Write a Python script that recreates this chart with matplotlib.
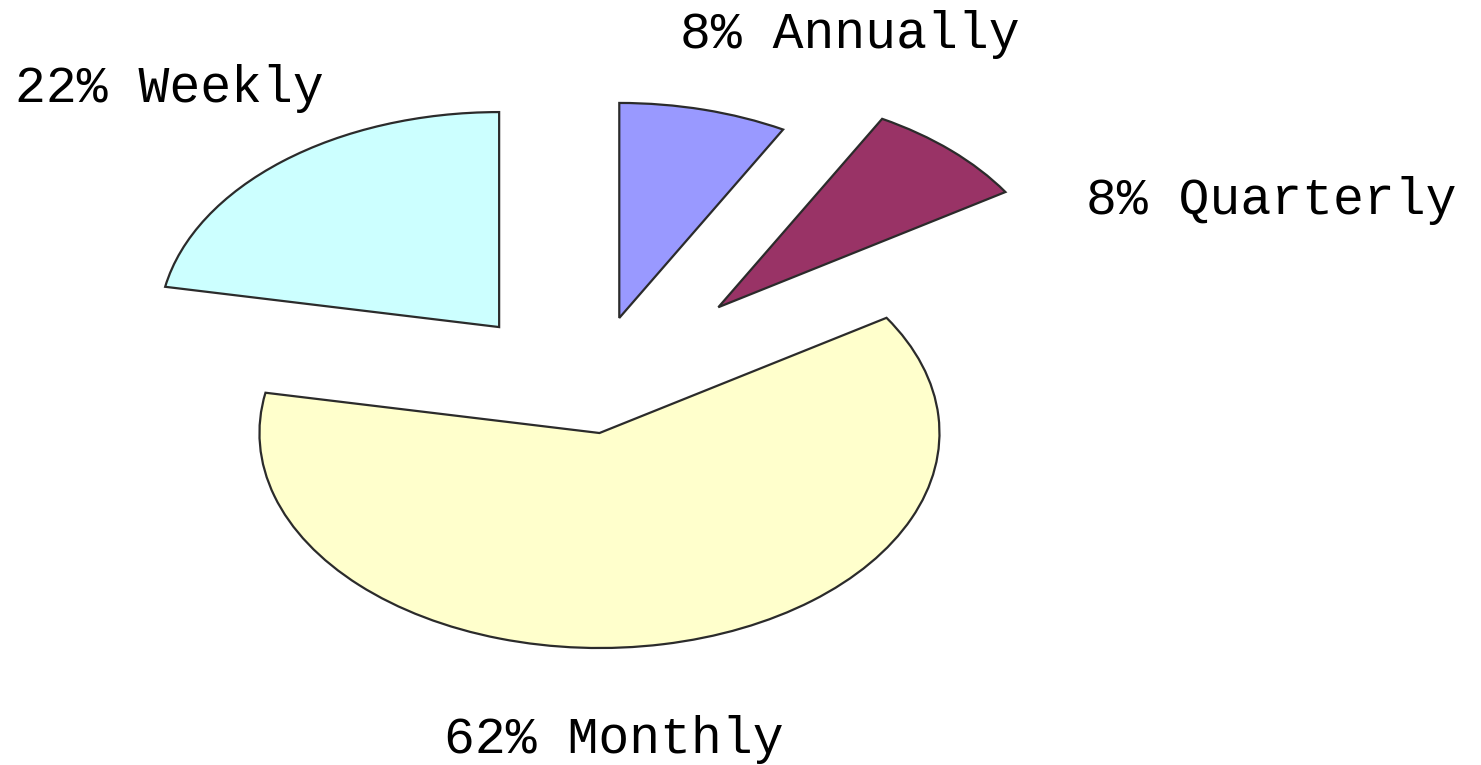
import matplotlib
matplotlib.use("Agg")
import matplotlib.pyplot as plt

# data (clockwise from 12 o'clock)
categories = ["Annually", "Quarterly", "Monthly", "Weekly"]
percents = [8, 8, 62, 22]
colors = ["#9999FF", "#993366", "#FFFFCC", "#CCFFFF"]
explode = [0.37, 0.56, 0.18, 0.41]

# label anchor positions (figure fraction, left / vertical centre)
label_pos = [(0.459, 0.955), (0.733, 0.738), (0.300, 0.033), (0.010, 0.884)]

fig = plt.figure(figsize=(14.81, 7.65), dpi=100)
ax = fig.add_axes([0, 0, 1, 1])

wedges, _ = ax.pie(percents, colors=colors, explode=explode, startangle=90,
                   counterclock=False,
                   wedgeprops=dict(edgecolor="#2b2b2b", linewidth=1.6))

# stretched ellipse: 1 unit = 340 px wide, 215 px tall; centre at (588, 395) px
ax.set_aspect("auto")
ax.set_xlim(-588 / 340, (1481 - 588) / 340)
ax.set_ylim((395 - 765) / 215, 395 / 215)
ax.axis("off")

for name, pct, (x, y) in zip(categories, percents, label_pos):
    fig.text(x, y, f"{pct}% {name}", ha="left", va="center",
             fontsize=37, family="Liberation Mono", color="black")

fig.savefig("out.png", dpi=100)
